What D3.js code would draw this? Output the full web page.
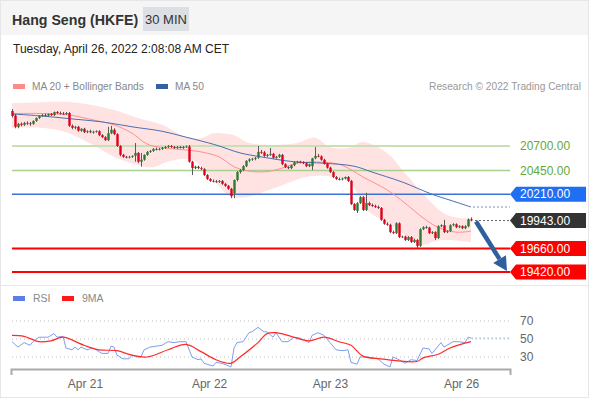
<!DOCTYPE html>
<html>
<head>
<meta charset="utf-8">
<script src="https://cdn.jsdelivr.net/npm/d3@7"></script>
<style>
  body { margin: 0; background: #fff; font-family: "Liberation Sans", Arial, sans-serif; }
  svg text { font-family: "Liberation Sans", Arial, sans-serif; }
</style>
</head>
<body>
<svg id="chart" width="590" height="400"></svg>
<script>
// ---- data ----
const title = 'Hang Seng (HKFE)';
const period = '30 MIN';
const stamp = 'Tuesday, April 26, 2022 2:08:08 AM CET';
const copyright = 'Research \u00a9 2022 Trading Central';

// 30 min candles: [open, high, low, close]
const candles = [
  [21055,21075,20990,21005],[21010,21025,20880,20895],[20895,20935,20880,20925],[20925,20940,20900,20915],
  [20915,20945,20905,20935],[20935,20950,20915,20930],[20930,20945,20905,20925],[20925,20960,20915,20955],
  [20955,20990,20945,20985],[20985,21010,20975,21005],[21005,21025,20995,21015],[21015,21030,21000,21010],
  [21010,21030,21000,21025],[21025,21035,21005,21015],[21015,21050,21005,21045],[21045,21055,21025,21035],
  [21035,21050,21020,21030],[21030,21045,21015,21025],[21025,21045,21015,21035],[21035,21045,20895,20905],
  [20905,20920,20870,20885],[20885,20905,20870,20895],[20895,20905,20845,20855],[20855,20880,20845,20875],
  [20875,20885,20830,20840],[20840,20860,20830,20850],[20850,20865,20830,20840],[20840,20855,20825,20845],
  [20845,20860,20835,20850],[20850,20860,20800,20810],[20810,20820,20780,20790],[20790,20800,20750,20760],
  [20760,20895,20750,20830],[20830,20905,20820,20865],[20865,20880,20810,20820],[20820,20830,20690,20700],
  [20700,20710,20595,20610],[20610,20620,20580,20590],[20590,20600,20575,20585],[20585,20600,20575,20590],
  [20590,20605,20580,20600],[20600,20730,20540,20630],[20630,20640,20525,20540],[20540,20630,20490,20560],
  [20560,20615,20550,20610],[20610,20650,20600,20640],[20640,20660,20630,20650],[20650,20680,20640,20670],
  [20670,20685,20655,20665],[20665,20680,20655,20670],[20670,20690,20660,20680],[20680,20700,20670,20690],
  [20690,20710,20680,20700],[20700,20710,20680,20690],[20690,20700,20670,20680],[20680,20700,20670,20690],
  [20690,20700,20675,20680],[20680,20700,20670,20690],[20690,20705,20680,20695],[20695,20710,20530,20540],
  [20540,20550,20405,20475],[20475,20500,20465,20490],[20490,20500,20465,20475],[20475,20490,20455,20465],
  [20465,20475,20395,20405],[20405,20415,20355,20365],[20365,20375,20335,20345],[20345,20360,20330,20340],
  [20340,20355,20325,20335],[20335,20355,20325,20345],[20345,20355,20305,20315],[20315,20325,20285,20295],
  [20295,20305,20255,20265],[20265,20275,20170,20190],[20220,20360,20170,20355],[20355,20445,20340,20435],
  [20435,20465,20420,20455],[20455,20505,20445,20495],[20495,20555,20485,20550],[20550,20575,20535,20565],
  [20565,20580,20550,20570],[20570,20590,20555,20580],[20580,20700,20570,20640],[20640,20660,20620,20635],
  [20635,20650,20590,20600],[20600,20620,20590,20610],[20610,20680,20600,20620],[20620,20630,20570,20580],
  [20580,20600,20570,20590],[20590,20620,20580,20610],[20610,20620,20505,20515],[20515,20525,20475,20485],
  [20485,20495,20465,20475],[20475,20510,20465,20505],[20505,20545,20495,20535],[20535,20550,20525,20540],
  [20540,20550,20525,20535],[20535,20545,20515,20525],[20525,20535,20485,20495],[20495,20520,20485,20515],
  [20495,20580,20455,20575],[20575,20690,20565,20600],[20600,20620,20585,20595],[20595,20605,20550,20560],
  [20560,20570,20510,20520],[20520,20530,20470,20480],[20480,20490,20425,20435],[20435,20445,20375,20385],
  [20385,20395,20355,20365],[20365,20380,20350,20360],[20360,20380,20350,20370],[20370,20390,20360,20385],
  [20385,20395,20335,20345],[20345,20355,20100,20110],[20110,20120,20040,20050],[20040,20130,20020,20120],
  [20120,20190,20110,20180],[20180,20190,20040,20050],[20050,20225,20040,20120],[20120,20135,20090,20100],
  [20100,20115,20080,20090],[20090,20105,20070,20080],[20080,20095,20060,20070],[20070,20080,19940,19950],
  [19950,19960,19900,19910],[19910,19925,19890,19900],[19900,19910,19815,19825],[19825,19840,19805,19815],
  [19815,19925,19805,19915],[19915,19925,19765,19775],[19775,19790,19765,19780],[19780,19790,19735,19745],
  [19745,19785,19735,19775],[19775,19785,19715,19725],[19725,19760,19715,19745],[19745,19755,19660,19685],
  [19685,19865,19675,19855],[19855,19885,19845,19875],[19875,19890,19860,19870],[19870,19880,19805,19815],
  [19815,19835,19805,19825],[19825,19835,19745,19765],[19765,19895,19755,19885],[19885,19905,19875,19895],
  [19895,19950,19815,19825],[19825,19845,19815,19835],[19835,19905,19825,19895],[19895,19915,19885,19905],
  [19905,19915,19865,19875],[19875,19895,19865,19885],[19885,19895,19855,19865],[19865,19895,19855,19885],
  [19885,19965,19875,19955],[19955,19975,19935,19943]
];

// indicator readings: [candle index, value]
const ma20 = [[0,21030],[10,21030],[19,21015],[27,20965],[34,20915],[40,20830],[45,20720],[51,20680],
  [58,20660],[63,20640],[69,20590],[74,20490],[79,20445],[85,20440],[90,20475],[95,20525],[104,20535],
  [110,20505],[117,20385],[125,20255],[131,20120],[137,19970],[142,19875],[148,19825],[153,19835]];
const ma50 = [[0,21025],[10,21005],[20,20975],[30,20945],[40,20895],[50,20850],[58,20790],[68,20710],
  [76,20630],[83,20590],[94,20540],[104,20525],[114,20495],[120,20435],[130,20335],[140,20210],
  [146,20150],[153,20080]];
const bbUpper = [[0,21135],[10,21145],[20,21145],[27,21115],[34,21065],[42,20985],[50,20915],[58,20790],
  [63,20780],[67,20830],[74,20810],[79,20730],[87,20710],[95,20730],[101,20785],[106,20690],[112,20680],
  [117,20740],[125,20630],[131,20425],[139,20150],[145,20000],[153,19960]];
const bbLower = [[0,20885],[10,20885],[18,20840],[27,20710],[34,20590],[42,20505],[47,20485],[52,20540],
  [60,20560],[68,20325],[73,20185],[79,20185],[84,20235],[92,20325],[98,20385],[104,20395],[112,20345],
  [119,20030],[125,19925],[132,19775],[136,19695],[143,19745],[153,19725]];

const levels = [20700, 20450, 20210, 19660, 19420];
const levelKinds = ['res2', 'res1', 'pivot', 'sup1', 'sup2'];
const lastPrice = 19943;
const target = 19420;

const rsi = [[0,47],[2,41],[4,46],[6,43],[7,47],[9,52],[12,52],[14,56],[15,52],[17,53],[18,40],[20,38],
  [21,41],[22,38],[23,41],[25,38],[27,40],[28,38],[30,34],[32,34],[33,42],[34,41],[35,32],[37,28],[39,28],
  [40,32],[42,30],[43,30],[44,38],[46,41],[48,42],[50,43],[52,47],[54,46],[56,47],[58,47],[60,30],[62,27],
  [63,28],[64,23],[67,20],[68,24],[70,23],[73,19],[74,40],[75,46],[77,47],[79,57],[80,58],[82,63],[84,58],
  [85,58],[87,52],[88,57],[90,47],[92,47],[94,52],[96,51],[99,46],[100,54],[102,57],[104,54],[106,46],
  [108,38],[110,37],[112,38],[113,24],[115,22],[116,30],[118,30],[122,28],[124,22],[126,19],[127,30],
  [129,27],[131,23],[133,27],[135,26],[137,40],[139,39],[140,34],[143,46],[144,41],[147,47],[149,47],
  [151,46],[152,52],[153,51]];
const rsi9 = [[0,54],[4,53],[9,47],[13,48],[17,52],[24,43],[29,38],[35,37],[40,32],[45,30],[52,38],[58,44],
  [63,36],[68,27],[73,23],[76,30],[82,46],[85,56],[88,57],[93,53],[99,48],[104,52],[109,47],[113,43],
  [117,31],[123,28],[128,26],[135,25],[137,29],[142,33],[146,40],[153,47]];
const rsiTicks = [70, 50, 30];

const dayTicks = [24.3, 65.7, 106, 149.7];
const dayLabels = ['Apr 21', 'Apr 22', 'Apr 23', 'Apr 26'];

// ---- drawing ----
const svg = d3.select('#chart');
const plotRight = 510;

svg.append('rect').attr('x', 0.5).attr('y', 0.5).attr('width', 588).attr('height', 397)
  .attr('fill', '#fff').attr('stroke', '#e4e6e8');
svg.append('rect').attr('x', 1).attr('y', 1).attr('width', 587).attr('height', 34).attr('fill', '#f5f5f5');
svg.append('text').attr('x', 12).attr('y', 25).attr('font-size', 14.2).attr('font-weight', 'bold')
  .attr('fill', '#333').text(title);
svg.append('rect').attr('x', 143).attr('y', 7).attr('width', 46).attr('height', 24).attr('fill', '#dcdfe3');
svg.append('text').attr('x', 166).attr('y', 24).attr('text-anchor', 'middle').attr('font-size', 13)
  .attr('fill', '#333').text(period);
svg.append('text').attr('x', 13).attr('y', 53).attr('font-size', 12).attr('fill', '#222').text(stamp);

function legendItem(x, y, w, color, label) {
  svg.append('rect').attr('x', x).attr('y', y - 6).attr('width', w).attr('height', 5).attr('fill', color);
  svg.append('text').attr('x', x + w + 7).attr('y', y).attr('font-size', 10.2).attr('fill', '#888').text(label);
}
legendItem(13, 90, 12, '#ff8a8a', 'MA 20 + Bollinger Bands');
legendItem(156, 90, 12, '#3561a3', 'MA 50');
svg.append('text').attr('x', 581).attr('y', 90).attr('text-anchor', 'end').attr('font-size', 10.2)
  .attr('fill', '#999').text(copyright);

const x = d3.scaleLinear().domain([0, candles.length - 1]).range([12, 471]);
const y = d3.scaleLinear().domain([20700, 19420]).range([146, 272]);

const line = d3.line().x(d => x(d[0])).y(d => y(d[1])).curve(d3.curveCatmullRom);
const main = svg.append('g');

// bollinger band
main.append('path')
  .attr('d', line(bbUpper) + 'L' + line(bbLower.slice().reverse()).slice(1) + 'Z')
  .attr('fill', '#ffe0e0').attr('opacity', 0.9);

// support / resistance
const levelStyle = {
  res2: {stroke: '#c7e1b2', width: 2, text: '#64a83a'},
  res1: {stroke: '#a9d08e', width: 1.5, text: '#64a83a'},
  pivot: {stroke: '#3c72d8', width: 1.5, box: '#1f6ff2'},
  sup1: {stroke: '#ff0000', width: 2, box: '#ff0000'},
  sup2: {stroke: '#ff0000', width: 2, box: '#ff0000'}
};
levels.forEach((v, i) => {
  const s = levelStyle[levelKinds[i]];
  main.append('line').attr('x1', 12).attr('x2', plotRight).attr('y1', y(v)).attr('y2', y(v))
    .attr('stroke', s.stroke).attr('stroke-width', s.width);
});

// moving averages
main.append('path').attr('d', line(ma20)).attr('fill', 'none').attr('stroke', '#ff8f8f').attr('stroke-width', 1);
main.append('path').attr('d', line(ma50)).attr('fill', 'none').attr('stroke', '#4a6fb0').attr('stroke-width', 1);
const lastMa50 = ma50[ma50.length - 1];
main.append('line').attr('x1', x(lastMa50[0]) + 2).attr('x2', plotRight)
  .attr('y1', y(lastMa50[1])).attr('y2', y(lastMa50[1]))
  .attr('stroke', '#7d95c2').attr('stroke-dasharray', '2,2');
main.append('line').attr('x1', x(candles.length - 1) + 4).attr('x2', plotRight)
  .attr('y1', y(lastPrice)).attr('y2', y(lastPrice))
  .attr('stroke', '#666').attr('stroke-dasharray', '2,2');

// candles
const cg = main.append('g');
candles.forEach((c, i) => {
  const [o, h, l, cl] = c;
  const up = cl >= o;
  const col = up ? '#2e7b30' : '#e0001b';
  const cx = Math.round(x(i)) + 0.5;
  cg.append('line').attr('x1', cx).attr('x2', cx).attr('y1', y(h)).attr('y2', y(l))
    .attr('stroke', '#5a5a5a').attr('stroke-width', 1);
  const top = y(Math.max(o, cl)), bot = y(Math.min(o, cl));
  cg.append('rect').attr('x', cx - 1.2).attr('width', 2.4)
    .attr('y', top).attr('height', Math.max(bot - top, 0.8)).attr('fill', col);
});

// right-hand labels
function tagLabel(v, fill) {
  const cy = y(v);
  main.append('path')
    .attr('d', `M510,${cy}L516,${cy - 7.5}H586V${cy + 7.5}H516Z`).attr('fill', fill);
  main.append('text').attr('x', 520).attr('y', cy).attr('dy', '0.35em').attr('font-size', 12)
    .attr('fill', '#fff').text(d3.format('.2f')(v));
}
levels.forEach((v, i) => {
  const s = levelStyle[levelKinds[i]];
  if (s.box) tagLabel(v, s.box);
  else main.append('text').attr('x', 520).attr('y', y(v)).attr('dy', '0.35em').attr('font-size', 12)
    .attr('fill', s.text).text(d3.format('.2f')(v));
});
tagLabel(lastPrice, '#333');

// forecast arrow
const sx = x(candles.length - 1) + 5, sy = y(lastPrice) + 1;
const tx = 507, ty = y(target) - 1;
const dx = tx - sx, dy = ty - sy, len = Math.hypot(dx, dy);
const ux = dx / len, uy = dy / len, nx = -uy, ny = ux;
const bx = tx - 14 * ux, by = ty - 14 * uy;
main.append('line').attr('x1', sx).attr('y1', sy).attr('x2', bx).attr('y2', by)
  .attr('stroke', '#2f5f9c').attr('stroke-width', 4.5);
main.append('path')
  .attr('d', `M${tx},${ty}L${bx + 7.5 * nx},${by + 7.5 * ny}L${bx - 7.5 * nx},${by - 7.5 * ny}Z`)
  .attr('fill', '#2f5f9c');

// ---- RSI panel ----
svg.append('line').attr('x1', 1).attr('x2', 588).attr('y1', 285.5).attr('y2', 285.5).attr('stroke', '#e8e8e8');
function legendRsi(x0, color, label) {
  svg.append('rect').attr('x', x0).attr('y', 296).attr('width', 12).attr('height', 5).attr('fill', color);
  svg.append('text').attr('x', x0 + 20).attr('y', 302).attr('font-size', 10.5).attr('fill', '#888').text(label);
}
legendRsi(13, '#5b7fe6', 'RSI');
legendRsi(62, '#ff1a1a', '9MA');

const ry = d3.scaleLinear().domain([70, 30]).range([321, 357]);
const rg = svg.append('g');
rsiTicks.forEach(t => {
  rg.append('line').attr('x1', 12).attr('x2', plotRight).attr('y1', ry(t)).attr('y2', ry(t))
    .attr('stroke', '#bdbdbd').attr('stroke-dasharray', '1,3');
});
const rline = d3.line().x(d => x(d[0])).y(d => ry(d[1]));
rg.append('path').attr('d', rline(rsi)).attr('fill', 'none').attr('stroke', '#7e9ef0').attr('stroke-width', 1);
rg.append('path').attr('d', rline.curve(d3.curveCatmullRom)(rsi9)).attr('fill', 'none')
  .attr('stroke', '#ff2b2b').attr('stroke-width', 1.2);
const lastRsi = rsi[rsi.length - 1];
rg.append('line').attr('x1', x(lastRsi[0])).attr('x2', plotRight).attr('y1', ry(lastRsi[1])).attr('y2', ry(lastRsi[1]))
  .attr('stroke', '#a8bdf3').attr('stroke-dasharray', '2,2');

const ryAxis = rg.append('g').attr('transform', `translate(${plotRight + 10},0)`)
  .call(d3.axisRight(ry).tickValues(rsiTicks).tickSize(0).tickPadding(0));
ryAxis.select('.domain').remove();
ryAxis.selectAll('text').attr('font-size', 12).attr('fill', '#666').attr('font-family', null);

const xa = d3.scaleLinear().domain([x.invert(11), x.invert(plotRight)]).range([11, plotRight]);
const xAxis = svg.append('g').attr('transform', 'translate(0,369)')
  .call(d3.axisBottom(xa).tickValues(dayTicks).tickFormat((d, i) => dayLabels[i])
    .tickSizeInner(0).tickSizeOuter(6).tickPadding(10));
xAxis.select('.domain').attr('stroke', '#aaa').attr('stroke-width', 2);
xAxis.selectAll('text').attr('font-size', 12).attr('fill', '#666').attr('font-family', null);
</script>
</body>
</html>
